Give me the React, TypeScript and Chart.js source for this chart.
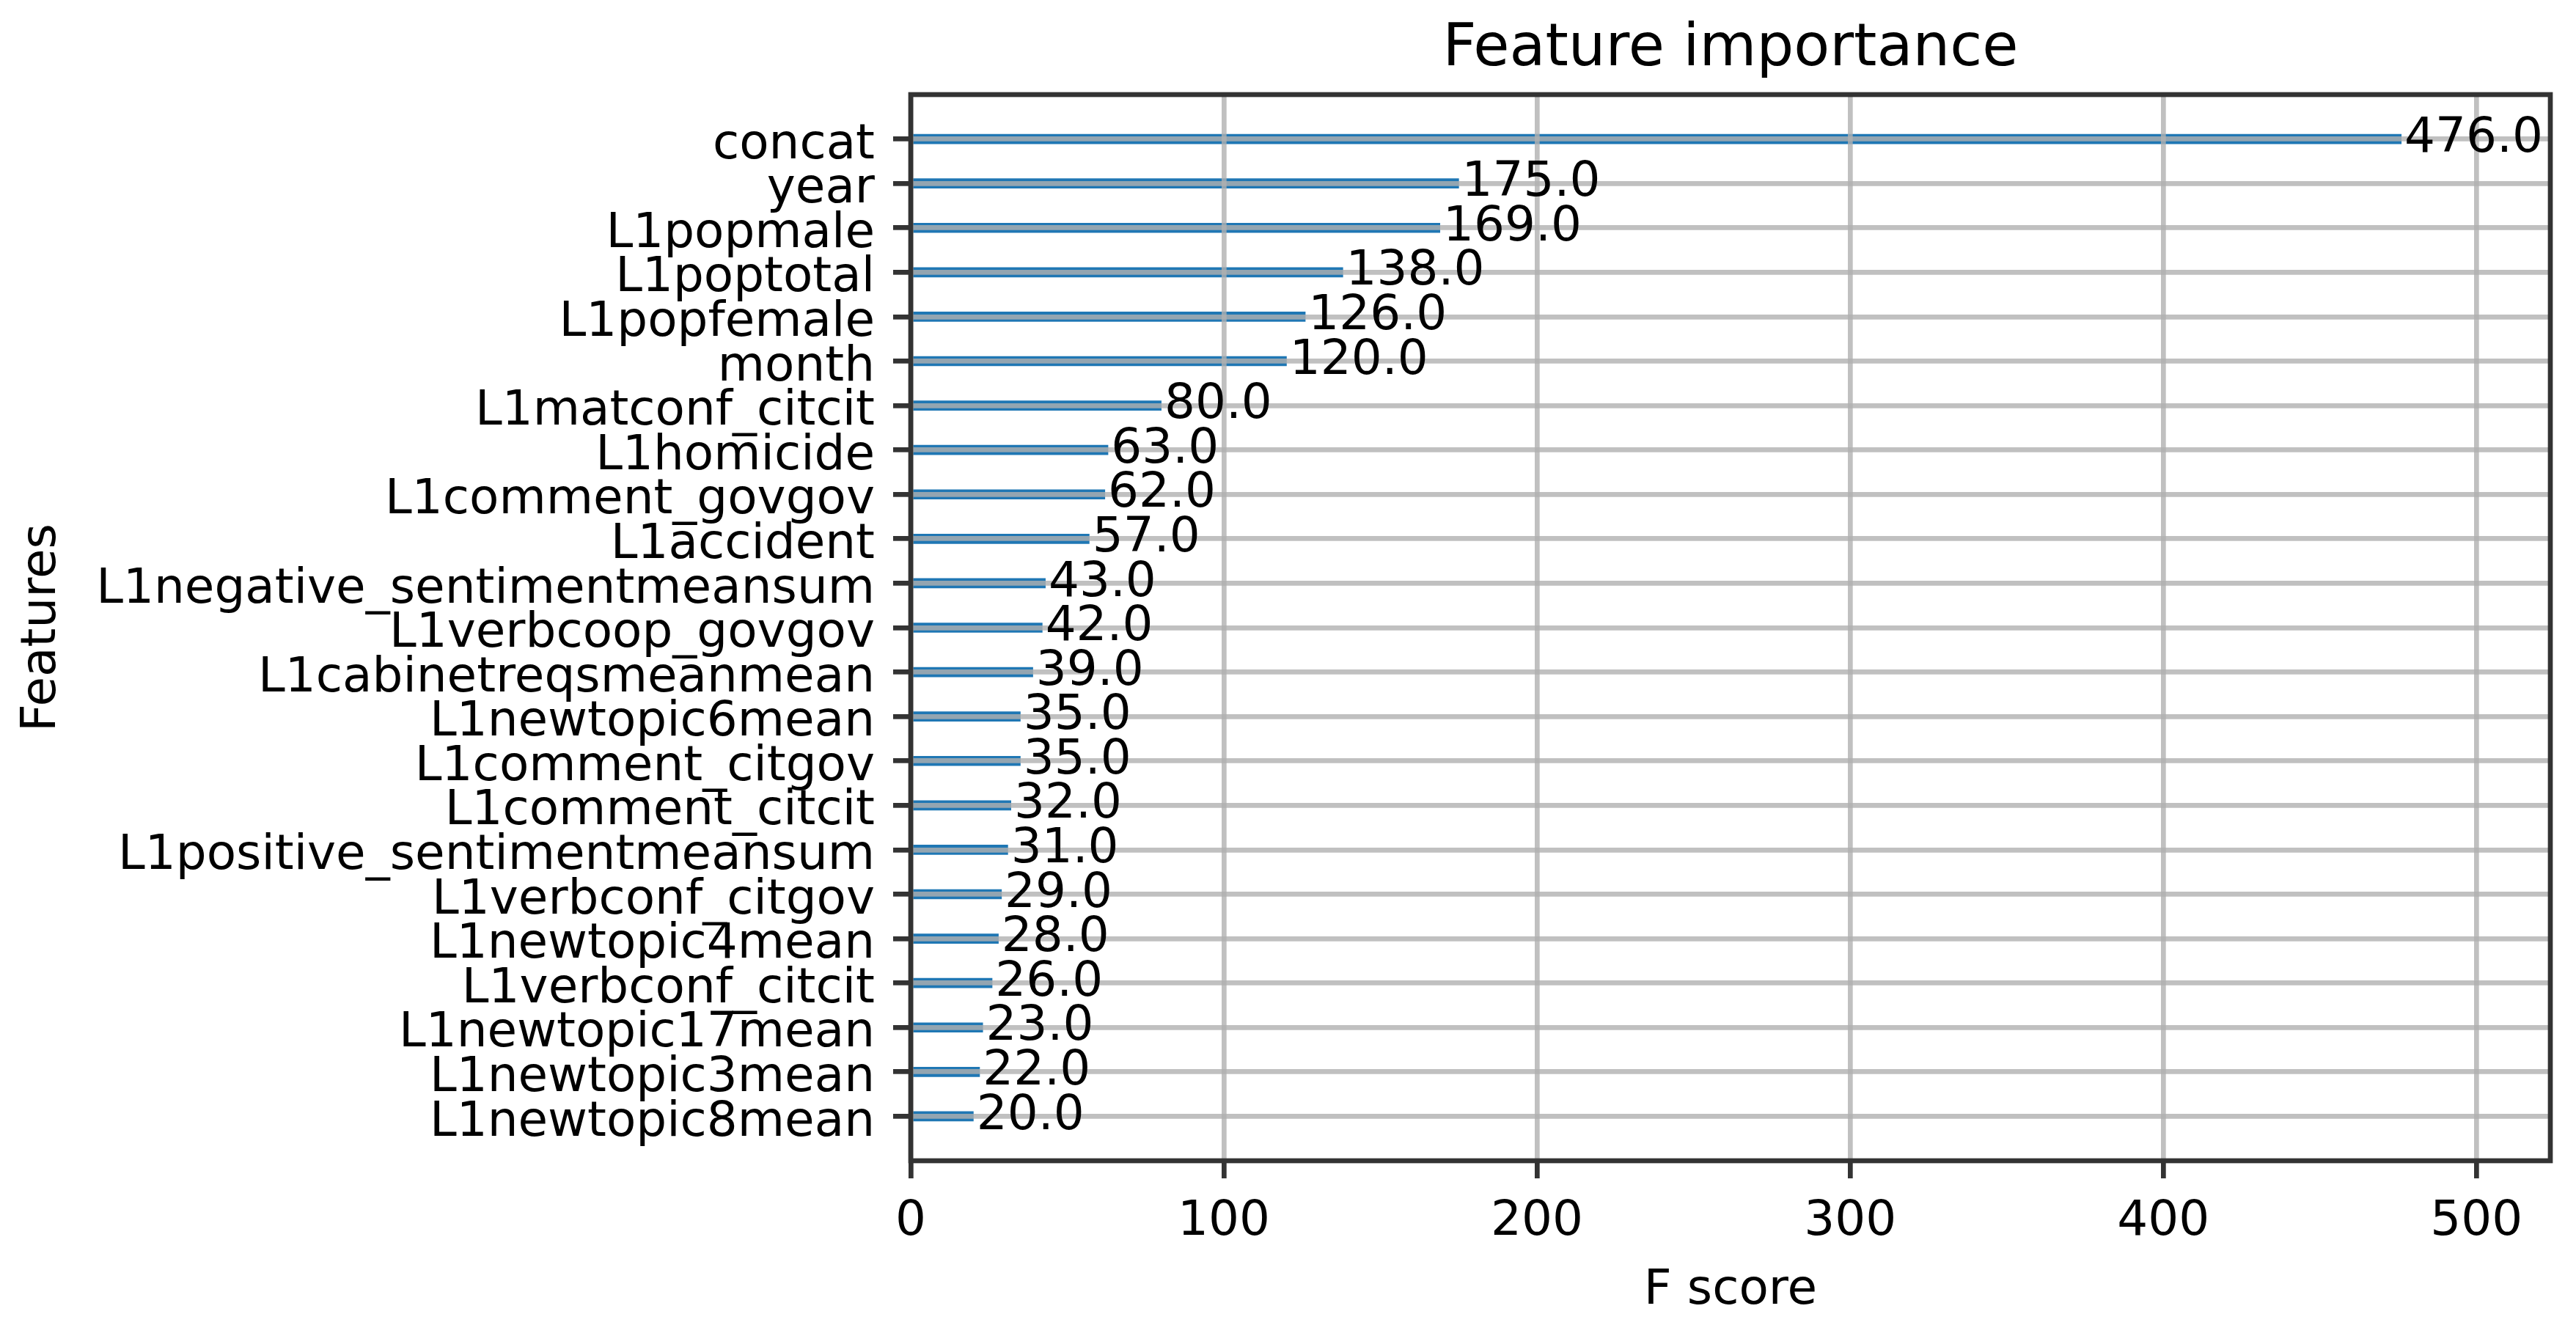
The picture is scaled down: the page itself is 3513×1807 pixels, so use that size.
import { useEffect, useRef } from 'react';
import { Chart, registerables } from 'chart.js';

Chart.register(...registerables);

const features = [
  'concat',
  'year',
  'L1popmale',
  'L1poptotal',
  'L1popfemale',
  'month',
  'L1matconf_citcit',
  'L1homicide',
  'L1comment_govgov',
  'L1accident',
  'L1negative_sentimentmeansum',
  'L1verbcoop_govgov',
  'L1cabinetreqsmeanmean',
  'L1newtopic6mean',
  'L1comment_citgov',
  'L1comment_citcit',
  'L1positive_sentimentmeansum',
  'L1verbconf_citgov',
  'L1newtopic4mean',
  'L1verbconf_citcit',
  'L1newtopic17mean',
  'L1newtopic3mean',
  'L1newtopic8mean',
];

const scores = [476, 175, 169, 138, 126, 120, 80, 63, 62, 57, 43, 42, 39, 35, 35, 32, 31, 29, 28, 26, 23, 22, 20];

const xTickValues = [0, 100, 200, 300, 400, 500];

const titleText = 'Feature importance';
const xAxisLabel = 'F score';
const yAxisLabel = 'Features';

const W = 3513;
const H = 1807;
const FONT = 'DejaVu Sans';
const FS = 66;
const LW = 6.7;
const GRID = 'rgba(176,176,176,0.8)';
const SPINE = '#333333';

export default function App() {
  const ref = useRef<HTMLCanvasElement | null>(null);

  useEffect(() => {
    const canvas = ref.current;
    if (!canvas) return;
    const xMax = Math.max(...scores) * 1.1;

    const overlay = {
      id: 'overlay',
      afterDraw(chart: any) {
        const { ctx, chartArea, scales } = chart;
        ctx.save();
        ctx.strokeStyle = SPINE;
        ctx.lineWidth = LW;
        ctx.strokeRect(
          chartArea.left,
          chartArea.top,
          chartArea.right - chartArea.left,
          chartArea.bottom - chartArea.top
        );
        ctx.fillStyle = '#000';
        ctx.font = `${FS}px "${FONT}"`;
        ctx.textBaseline = 'middle';
        ctx.textAlign = 'left';
        scores.forEach((v, i) => {
          ctx.fillText(v.toFixed(1), scales.x.getPixelForValue(v + 1), scales.y.getPixelForValue(i));
        });
        ctx.restore();
      },
    };

    const chart = new Chart(canvas, {
      type: 'bar',
      data: {
        datasets: [
          {
            data: scores.map((v, i) => ({ x: v, y: i })),
            backgroundColor: '#1f77b4',
            borderWidth: 0,
            barThickness: 13,
          },
        ],
      },
      options: {
        indexAxis: 'y',
        responsive: false,
        animation: false,
        devicePixelRatio: 1,
        layout: { padding: { left: 0, right: 35, top: 0, bottom: 0 } },
        plugins: {
          legend: { display: false },
          tooltip: { enabled: false },
          title: {
            display: true,
            fullSize: false,
            text: titleText,
            color: '#000',
            font: { family: FONT, size: 80, weight: 'normal' },
            padding: { top: 20, bottom: 13 },
          },
        },
        scales: {
          x: {
            type: 'linear',
            position: 'bottom',
            min: 0,
            max: xMax,
            offset: false,
            afterBuildTicks: (s: any) => {
              s.ticks = xTickValues.map((v) => ({ value: v }));
            },
            afterFit: (s: any) => {
              s.height = 224;
            },
            grid: {
              color: GRID,
              lineWidth: LW,
              z: 1,
              offset: false,
              tickLength: 24,
              tickColor: SPINE,
              tickWidth: LW,
            },
            border: { display: false },
            ticks: {
              color: '#000',
              font: { family: FONT, size: FS },
              padding: 20,
              maxRotation: 0,
              autoSkip: false,
              callback: (v: any) => String(v),
            },
            title: {
              display: true,
              text: xAxisLabel,
              color: '#000',
              font: { family: FONT, size: FS },
              padding: { top: 0, bottom: 7 },
            },
          },
          y: {
            type: 'linear',
            position: 'left',
            reverse: true,
            min: -1,
            max: features.length,
            offset: false,
            afterBuildTicks: (s: any) => {
              s.ticks = features.map((_, i) => ({ value: i }));
            },
            afterFit: (s: any) => {
              s.width = 1242;
            },
            grid: {
              color: GRID,
              lineWidth: LW,
              z: 1,
              offset: false,
              tickLength: 24,
              tickColor: SPINE,
              tickWidth: LW,
            },
            border: { display: false },
            ticks: {
              color: '#000',
              font: { family: FONT, size: FS },
              padding: 25,
              labelOffset: 9,
              autoSkip: false,
              callback: (v: any) => features[v] ?? '',
            },
            title: {
              display: true,
              text: yAxisLabel,
              color: '#000',
              font: { family: FONT, size: FS },
              padding: { top: 18, bottom: 0 },
            },
          },
        },
      },
      plugins: [overlay],
    } as any);

    return () => chart.destroy();
  }, []);

  return (
    <canvas
      ref={ref}
      width={W}
      height={H}
      style={{ position: 'fixed', left: 0, top: 0, width: W, height: H, display: 'block' }}
    />
  );
}
